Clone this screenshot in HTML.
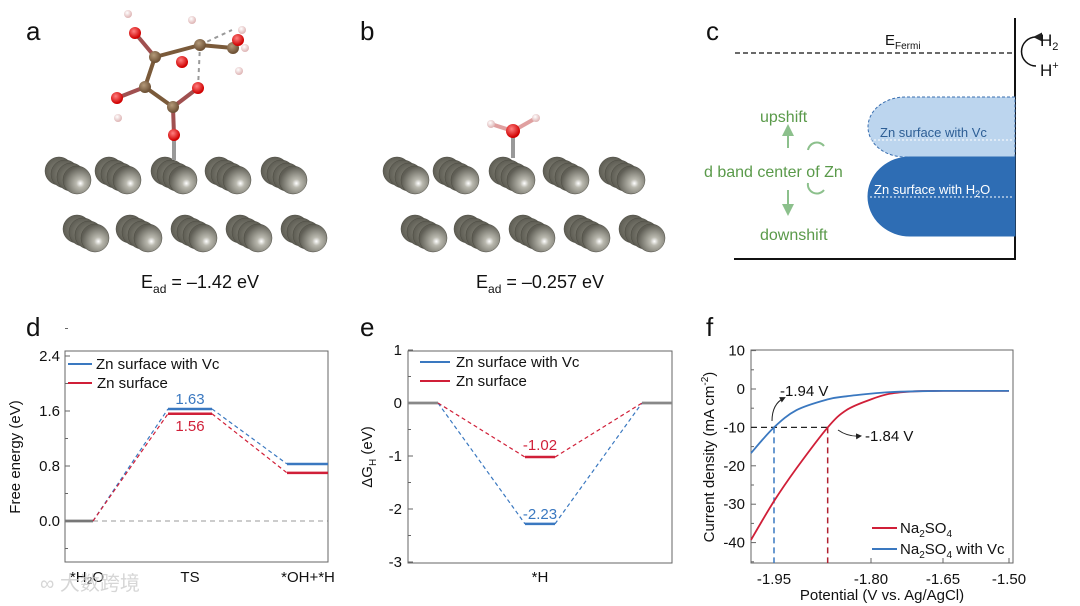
<!DOCTYPE html>
<html><head><meta charset="utf-8"><style>
html,body{margin:0;padding:0;background:#fff;}
svg{display:block;font-family:"Liberation Sans",Arial,sans-serif;}
</style></head><body>
<svg id="fig" width="1080" height="606" viewBox="0 0 1080 606">
<defs>
<radialGradient id="zn" cx="0.62" cy="0.62" r="0.6"><stop offset="0" stop-color="#fff"/><stop offset="0.25" stop-color="#b9b8ae"/><stop offset="1" stop-color="#5f5e55"/></radialGradient>
<radialGradient id="zb" cx="0.5" cy="0.5" r="0.6"><stop offset="0" stop-color="#8c8b80"/><stop offset="1" stop-color="#55544b"/></radialGradient>
<radialGradient id="ox" cx="0.4" cy="0.35" r="0.6"><stop offset="0" stop-color="#ff8080"/><stop offset="1" stop-color="#d00000"/></radialGradient>
<radialGradient id="cb" cx="0.4" cy="0.35" r="0.6"><stop offset="0" stop-color="#b49a7a"/><stop offset="1" stop-color="#6e5236"/></radialGradient>
<radialGradient id="hy" cx="0.4" cy="0.35" r="0.6"><stop offset="0" stop-color="#fff"/><stop offset="1" stop-color="#e0b8b8"/></radialGradient>
<marker id="ah" markerWidth="6" markerHeight="6" refX="4" refY="3" orient="auto"><path d="M0,0 L6,3 L0,6 z" fill="#222"/></marker>
<marker id="ag" markerWidth="6" markerHeight="6" refX="4" refY="3" orient="auto"><path d="M0,0 L6,3 L0,6 z" fill="#8cc08c"/></marker>
</defs>

<g font-size="26" fill="#111">
<text x="26" y="40">a</text>
<text x="360" y="40">b</text>
<text x="706" y="40">c</text>
<text x="26" y="336">d</text>
<text x="360" y="336">e</text>
<text x="706" y="336">f</text>
</g>

<g id="slabA"></g>
<g id="slabB"></g>

<g id="molA" stroke-width="4">
<line x1="135" y1="33" x2="155" y2="57" stroke="#a05050"/>
<line x1="155" y1="57" x2="145" y2="87" stroke="#7a5a3a"/>
<line x1="145" y1="87" x2="117" y2="98" stroke="#a05050"/>
<line x1="145" y1="87" x2="173" y2="107" stroke="#7a5a3a"/>
<line x1="173" y1="107" x2="198" y2="88" stroke="#a05050"/>
<line x1="173" y1="107" x2="174" y2="135" stroke="#a05050"/>
<line x1="155" y1="57" x2="200" y2="45" stroke="#7a5a3a"/>
<line x1="200" y1="45" x2="233" y2="48" stroke="#7a5a3a"/>
<line x1="174" y1="135" x2="174" y2="160" stroke="#999"/>
<line x1="198" y1="88" x2="200" y2="45" stroke="#999" stroke-width="2" stroke-dasharray="4 4"/>
<line x1="200" y1="45" x2="232" y2="30" stroke="#999" stroke-width="2" stroke-dasharray="4 4"/>
<circle cx="128" cy="14" r="4" fill="url(#hy)"/>
<circle cx="118" cy="118" r="4" fill="url(#hy)"/>
<circle cx="192" cy="20" r="4" fill="url(#hy)"/>
<circle cx="245" cy="48" r="4" fill="url(#hy)"/>
<circle cx="242" cy="30" r="4" fill="url(#hy)"/>
<circle cx="239" cy="71" r="4" fill="url(#hy)"/>
<circle cx="182" cy="62" r="6" fill="url(#ox)"/>
<circle cx="135" cy="33" r="6" fill="url(#ox)"/>
<circle cx="155" cy="57" r="6" fill="url(#cb)"/>
<circle cx="145" cy="87" r="6" fill="url(#cb)"/>
<circle cx="117" cy="98" r="6" fill="url(#ox)"/>
<circle cx="173" cy="107" r="6" fill="url(#cb)"/>
<circle cx="198" cy="88" r="6" fill="url(#ox)"/>
<circle cx="174" cy="135" r="6" fill="url(#ox)"/>
<circle cx="200" cy="45" r="6" fill="url(#cb)"/>
<circle cx="233" cy="48" r="6" fill="url(#cb)"/>
<circle cx="238" cy="40" r="6" fill="url(#ox)"/>
</g>
<g stroke-width="4">
<line x1="513" y1="131" x2="513" y2="158" stroke="#999"/>
<line x1="513" y1="131" x2="491" y2="124" stroke="#e0a0a0"/>
<line x1="513" y1="131" x2="536" y2="118" stroke="#e0a0a0"/>
<circle cx="491" cy="124" r="4" fill="url(#hy)"/>
<circle cx="536" cy="118" r="4" fill="url(#hy)"/>
<circle cx="513" cy="131" r="7" fill="url(#ox)"/>
</g>
<text x="200" y="288" font-size="18" text-anchor="middle" fill="#111">E<tspan font-size="12" dy="5">ad</tspan><tspan dy="-5"> = –1.42 eV</tspan></text>
<text x="540" y="288" font-size="18" text-anchor="middle" fill="#111">E<tspan font-size="12" dy="5">ad</tspan><tspan dy="-5"> = –0.257 eV</tspan></text>

<g>
<line x1="735" y1="53" x2="1015" y2="53" stroke="#111" stroke-width="1.3" stroke-dasharray="5 3"/>
<text x="885" y="45" font-size="15" fill="#111">E<tspan font-size="10" dy="4">Fermi</tspan></text>
<line x1="1015" y1="18" x2="1015" y2="260" stroke="#111" stroke-width="2"/>
<line x1="734" y1="259" x2="1016" y2="259" stroke="#111" stroke-width="2"/>
<path d="M1015,97 L905,97 A37,30 0 0 0 905,157 L1015,157 Z" fill="#bcd5ee" stroke="#3a6fb0" stroke-width="1" stroke-dasharray="3 2"/>
<path d="M1015,157 L910,157 A42,39.5 0 0 0 910,236 L1015,236 Z" fill="#2e6db4" stroke="#2e6db4"/>
<line x1="870" y1="140" x2="1013" y2="140" stroke="#fff" stroke-dasharray="2 2"/>
<line x1="870" y1="197" x2="1013" y2="197" stroke="#fff" stroke-dasharray="2 2"/>
<text x="880" y="137" font-size="13" fill="#2d5e95">Zn surface with Vc</text>
<text x="874" y="194" font-size="13" fill="#fff">Zn surface with H<tspan font-size="9" dy="3">2</tspan><tspan dy="-3">O</tspan></text>
<g fill="#5a9a4a" font-size="16">
<text x="760" y="122">upshift</text>
<text x="704" y="177">d band center of Zn</text>
<text x="760" y="240">downshift</text>
</g>
<line x1="788" y1="148" x2="788" y2="128" stroke="#8cc08c" stroke-width="2" marker-end="url(#ag)"/>
<line x1="788" y1="190" x2="788" y2="212" stroke="#8cc08c" stroke-width="2" marker-end="url(#ag)"/>
<path d="M808,150 A9,9 0 0 1 824,146" fill="none" stroke="#8cc08c" stroke-width="2"/>
<path d="M808,183 A9,9 0 0 0 824,190" fill="none" stroke="#8cc08c" stroke-width="2"/>
<path d="M1036,37 A12,12 0 0 0 1036,66" fill="none" stroke="#111" stroke-width="1.5" marker-start="url(#ah)"/>
<text x="1040" y="46" font-size="17" fill="#111">H<tspan font-size="11" dy="4">2</tspan></text>
<text x="1040" y="76" font-size="17" fill="#111">H<tspan font-size="11" dy="-7">+</tspan></text>
</g>

<g id="panelD"></g>
<g id="panelE"></g>
<g id="panelF"></g>

<text x="40" y="590" font-size="20" fill="#ccc" opacity="0.8" font-family="'Liberation Sans','Noto Sans CJK SC',sans-serif">∞ 大数跨境</text>
</svg>

<script>
const dStates = ['*H\u2082O', 'TS', '*OH+*H'];
const dVc = [0, 1.63, 0.83];
const dBare = [0, 1.56, 0.70];
const dTicks = [0.0, 0.8, 1.6, 2.4];
const eStates = ['', '*H', ''];
const eVc = [0, -2.28, 0];
const eBare = [0, -1.02, 0];
const eLabelVc = '-2.23';
const eLabelBare = '-1.02';
const eTicks = [1, 0, -1, -2, -3];
const fPotential = [-1.986, -1.95, -1.915, -1.867, -1.838, -1.80, -1.76, -1.709, -1.65, -1.55, -1.50];
const fNa2SO4 = [-39.3, -29.2, -20.6, -10, -5.5, -2.7, -1.2, -0.6, -0.5, -0.5, -0.5];
const fNa2SO4Vc = [-16.7, -10, -5.5, -2.7, -1.9, -1.2, -0.8, -0.6, -0.5, -0.5, -0.5];
const fXTicks = [-1.95, -1.80, -1.65, -1.50];
const fYTicks = [10, 0, -10, -20, -30, -40];
const fOnsetVc = -1.95, fOnsetBare = -1.867;

const NS = 'http://www.w3.org/2000/svg';
function mk(parent, tag, attrs, text) {
  const e = document.createElementNS(NS, tag);
  for (const k in attrs) e.setAttribute(k, attrs[k]);
  if (text !== undefined) e.textContent = text;
  parent.appendChild(e);
  return e;
}
const BLUE = '#3a78c0', RED = '#d01f38';

function slab(g, dx) {
  const row1 = [77, 127, 183, 237, 293], row2 = [95, 148, 203, 258, 313];
  [[row1, 180], [row2, 238]].forEach(([xs, y]) => {
    xs.forEach(x => {
      for (let k = 3; k >= 0; k--) {
        const c = mk(g, 'circle', {cx: x + dx - k * 6, cy: y - k * 3, r: 14, fill: k ? 'url(#zb)' : 'url(#zn)', stroke: '#4a4940', 'stroke-width': 0.5});
        
        
      }
    });
  });
}
slab(document.getElementById('slabA'), 0);
slab(document.getElementById('slabB'), 338);

(function () {
  const g = document.getElementById('panelD');
  const L = 65, R = 328, T = 351, B = 562;
  const y = v => 521 - v / 0.8 * 55;
  const segs = [[65, 93], [168, 212], [287, 328]];
  mk(g, 'line', {x1: 93, y1: y(0), x2: R, y2: y(0), stroke: '#999', 'stroke-dasharray': '5 4', 'stroke-width': 1});
  mk(g, 'rect', {x: L, y: T, width: R - L, height: B - T, fill: 'none', stroke: '#666', 'stroke-width': 1});
  dTicks.forEach(t => {
    mk(g, 'line', {x1: L, y1: y(t), x2: L + 5, y2: y(t), stroke: '#666'});
    mk(g, 'line', {x1: L, y1: y(t + 0.4), x2: L + 3, y2: y(t + 0.4), stroke: '#666'});
    const tx = mk(g, 'text', {x: L - 5, y: y(t) + 5, 'font-size': 15, 'text-anchor': 'end', fill: '#111'}, t.toFixed(1));
    
    
  });
  mk(g, 'line', {x1: L, y1: y(-0.4), x2: L + 3, y2: y(-0.4), stroke: '#666'});
  [[dVc, BLUE], [dBare, RED]].forEach(([vals, col]) => {
    for (let i = 0; i < vals.length; i++) {
      const ln = mk(g, 'line', {x1: segs[i][0], y1: y(vals[i]), x2: segs[i][1], y2: y(vals[i]), stroke: i === 0 ? '#777' : col, 'stroke-width': 2.5});
      
      
      if (i < vals.length - 1)
        mk(g, 'line', {x1: segs[i][1], y1: y(vals[i]), x2: segs[i + 1][0], y2: y(vals[i + 1]), stroke: col, 'stroke-dasharray': '4 3', 'stroke-width': 1.2});
    }
  });
  mk(g, 'text', {x: 190, y: y(dVc[1]) - 5, 'font-size': 15, 'text-anchor': 'middle', fill: BLUE}, dVc[1].toFixed(2));
  mk(g, 'text', {x: 190, y: y(dBare[1]) + 17, 'font-size': 15, 'text-anchor': 'middle', fill: RED}, dBare[1].toFixed(2));
  const xs = [87, 190, 308];
  dStates.forEach((s, i) => {
    const t = mk(g, 'text', {x: xs[i], y: 582, 'font-size': 15, 'text-anchor': 'middle', fill: '#111'}, s);
    
    
  });
  mk(g, 'text', {x: 20, y: 457, 'font-size': 15, 'text-anchor': 'middle', fill: '#111', transform: 'rotate(-90 20 457)'}, 'Free energy (eV)');
  mk(g, 'line', {x1: 68, y1: 364, x2: 92, y2: 364, stroke: BLUE, 'stroke-width': 2});
  mk(g, 'text', {x: 96, y: 369, 'font-size': 15, fill: '#111'}, 'Zn surface with Vc');
  mk(g, 'line', {x1: 68, y1: 383, x2: 92, y2: 383, stroke: RED, 'stroke-width': 2});
  mk(g, 'text', {x: 97, y: 388, 'font-size': 15, fill: '#111'}, 'Zn surface');
})();

(function () {
  const g = document.getElementById('panelE');
  const L = 408, R = 672, T = 351, B = 563;
  const y = v => 403 - v * 53;
  const segs = [[408, 438], [525, 555], [642, 672]];
  mk(g, 'rect', {x: L, y: T, width: R - L, height: B - T, fill: 'none', stroke: '#666'});
  eTicks.forEach(t => {
    mk(g, 'line', {x1: L, y1: y(t), x2: L + 5, y2: y(t), stroke: '#666'});
    if (t > -3) mk(g, 'line', {x1: L, y1: y(t - 0.5), x2: L + 3, y2: y(t - 0.5), stroke: '#666'});
    const tx = mk(g, 'text', {x: L - 6, y: y(t) + 5, 'font-size': 15, 'text-anchor': 'end', fill: '#111'}, String(t));
    
    
  });
  [[eVc, BLUE], [eBare, RED]].forEach(([vals, col]) => {
    for (let i = 0; i < vals.length; i++) {
      const ln = mk(g, 'line', {x1: segs[i][0], y1: y(vals[i]), x2: segs[i][1], y2: y(vals[i]), stroke: (i === 1) ? col : '#888', 'stroke-width': 2.5});
      
      
      if (i < vals.length - 1)
        mk(g, 'line', {x1: segs[i][1], y1: y(vals[i]), x2: segs[i + 1][0], y2: y(vals[i + 1]), stroke: col, 'stroke-dasharray': '4 3', 'stroke-width': 1.2});
    }
  });
  mk(g, 'text', {x: 540, y: y(eBare[1]) - 7, 'font-size': 15, 'text-anchor': 'middle', fill: RED}, eLabelBare);
  mk(g, 'text', {x: 540, y: y(eVc[1]) - 5, 'font-size': 15, 'text-anchor': 'middle', fill: BLUE}, eLabelVc);
  const xs = [423, 540, 657];
  eStates.forEach((s, i) => {
    const t = mk(g, 'text', {x: xs[i], y: 582, 'font-size': 15, 'text-anchor': 'middle', fill: '#111'}, s);
    
    
  });
  mk(g, 'text', {x: 372, y: 457, 'font-size': 15, 'text-anchor': 'middle', fill: '#111', transform: 'rotate(-90 372 457)'}).innerHTML = 'ΔG<tspan font-size="10" dy="4">H</tspan><tspan dy="-4"> (eV)</tspan>';
  mk(g, 'line', {x1: 420, y1: 362, x2: 450, y2: 362, stroke: BLUE, 'stroke-width': 2});
  mk(g, 'text', {x: 456, y: 367, 'font-size': 15, fill: '#111'}, 'Zn surface with Vc');
  mk(g, 'line', {x1: 420, y1: 381, x2: 450, y2: 381, stroke: RED, 'stroke-width': 2});
  mk(g, 'text', {x: 456, y: 386, 'font-size': 15, fill: '#111'}, 'Zn surface');
})();

(function () {
  const g = document.getElementById('panelF');
  const L = 751, R = 1013, T = 350, B = 563;
  // piecewise axis (original figure has non-uniform tick spacing)
  const dom = [-1.986, -1.95, -1.80, -1.65, -1.50], rng = [751, 774, 871, 943, 1009];
  const x = v => {
    let i = 0;
    while (i < dom.length - 2 && v > dom[i + 1]) i++;
    return rng[i] + (v - dom[i]) / (dom[i + 1] - dom[i]) * (rng[i + 1] - rng[i]);
  };
  const y = v => 389 - v * 3.84;
  mk(g, 'rect', {x: L, y: T, width: R - L, height: B - T, fill: 'none', stroke: '#666'});
  fYTicks.forEach(t => {
    mk(g, 'line', {x1: L, y1: y(t), x2: L + 5, y2: y(t), stroke: '#666'});
    mk(g, 'line', {x1: L, y1: y(t - 5), x2: L + 3, y2: y(t - 5), stroke: '#666'});
    const tx = mk(g, 'text', {x: L - 6, y: y(t) + 5, 'font-size': 15, 'text-anchor': 'end', fill: '#111'}, String(t));
    
    
  });
  fXTicks.forEach(t => {
    const px = x(t);
    mk(g, 'line', {x1: px, y1: B, x2: px, y2: B - 5, stroke: '#666'});
    const tx = mk(g, 'text', {x: px, y: 584, 'font-size': 15, 'text-anchor': 'middle', fill: '#111'}, t.toFixed(2));
    
    
  });
  mk(g, 'line', {x1: L, y1: y(-10), x2: x(fOnsetBare), y2: y(-10), stroke: '#222', 'stroke-dasharray': '6 4', 'stroke-width': 1.2});
  mk(g, 'line', {x1: x(fOnsetVc), y1: y(-10), x2: x(fOnsetVc), y2: B, stroke: BLUE, 'stroke-dasharray': '6 4', 'stroke-width': 1.5});
  mk(g, 'line', {x1: x(fOnsetBare), y1: y(-10), x2: x(fOnsetBare), y2: B, stroke: '#b02030', 'stroke-dasharray': '6 4', 'stroke-width': 1.5});
  function curve(vals, col, name) {
    const pts = fPotential.map((p, i) => [Math.min(x(p), R), y(vals[i])]);
    let d = 'M' + pts[0][0].toFixed(1) + ',' + pts[0][1].toFixed(1);
    for (let i = 0; i < pts.length - 1; i++) {
      const p0 = pts[Math.max(i - 1, 0)], p1 = pts[i], p2 = pts[i + 1], p3 = pts[Math.min(i + 2, pts.length - 1)];
      const c1 = [p1[0] + (p2[0] - p0[0]) / 6, p1[1] + (p2[1] - p0[1]) / 6];
      const c2 = [p2[0] - (p3[0] - p1[0]) / 6, p2[1] - (p3[1] - p1[1]) / 6];
      d += ' C' + c1.map(v => v.toFixed(1)).join(',') + ' ' + c2.map(v => v.toFixed(1)).join(',') + ' ' + p2.map(v => v.toFixed(1)).join(',');
    }
    const path = mk(g, 'path', {d: d, fill: 'none', stroke: col, 'stroke-width': 1.8, 'stroke-linejoin': 'round'});
    
    
  }
  curve(fNa2SO4, RED, 'curve-na2so4');
  curve(fNa2SO4Vc, BLUE, 'curve-na2so4-vc');
  mk(g, 'path', {d: 'M772,421 Q772,404 784,398', fill: 'none', stroke: '#222', 'stroke-width': 1, 'marker-end': 'url(#ah)'});
  mk(g, 'text', {x: 780, y: 396, 'font-size': 15, fill: '#111'}, '-1.94 V');
  mk(g, 'path', {d: 'M838,430 Q848,437 860,436', fill: 'none', stroke: '#222', 'stroke-width': 1, 'marker-end': 'url(#ah)'});
  mk(g, 'text', {x: 865, y: 441, 'font-size': 15, fill: '#111'}, '-1.84 V');
  mk(g, 'line', {x1: 872, y1: 528, x2: 897, y2: 528, stroke: RED, 'stroke-width': 2});
  mk(g, 'text', {x: 900, y: 533, 'font-size': 15, fill: '#111'}).innerHTML = 'Na<tspan font-size="10" dy="4">2</tspan><tspan dy="-4">SO</tspan><tspan font-size="10" dy="4">4</tspan>';
  mk(g, 'line', {x1: 872, y1: 549, x2: 897, y2: 549, stroke: BLUE, 'stroke-width': 2});
  mk(g, 'text', {x: 900, y: 554, 'font-size': 15, fill: '#111'}).innerHTML = 'Na<tspan font-size="10" dy="4">2</tspan><tspan dy="-4">SO</tspan><tspan font-size="10" dy="4">4</tspan><tspan dy="-4"> with Vc</tspan>';
  mk(g, 'text', {x: 882, y: 600, 'font-size': 15, 'text-anchor': 'middle', fill: '#111'}, 'Potential (V vs. Ag/AgCl)');
  mk(g, 'text', {x: 714, y: 457, 'font-size': 15, 'text-anchor': 'middle', fill: '#111', transform: 'rotate(-90 714 457)'}).innerHTML = 'Current density (mA cm<tspan font-size="10" dy="-6">-2</tspan><tspan dy="6">)</tspan>';
})();
</script>
</body></html>
